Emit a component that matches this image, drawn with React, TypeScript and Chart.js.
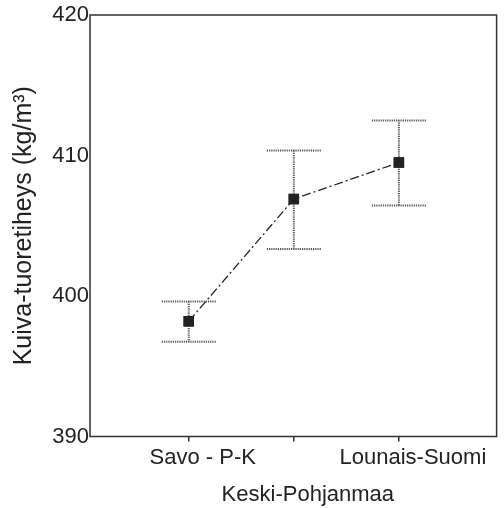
import React, { useEffect, useRef } from "react";
import { Chart, registerables } from "chart.js";

Chart.register(...registerables);

const categories = ["Savo - P-K", "Keski-Pohjanmaa", "Lounais-Suomi"];
const positions = [1, 2, 3];
const means = [398.2, 406.9, 409.5];
const lower = [396.75, 403.35, 406.45];
const upper = [399.6, 410.35, 412.5];
const yTicks = [390, 400, 410, 420];
const yTitle = "Kuiva-tuoretiheys (kg/m³)";

const FONT = "'Liberation Sans', Arial, Helvetica, sans-serif";

const errorBarPlugin = {
  id: "errorBars",
  afterDatasetsDraw(chart: any) {
    const { ctx, scales, chartArea } = chart;
    const xs = scales.x;
    const ys = scales.y;
    ctx.save();
    ctx.strokeStyle = "#555";
    ctx.lineWidth = 2;
    ctx.setLineDash([1.2, 1]);
    positions.forEach((p, i) => {
      const x = xs.getPixelForValue(p);
      const yl = ys.getPixelForValue(lower[i]);
      const yu = ys.getPixelForValue(upper[i]);
      const half = 27;
      ctx.beginPath();
      ctx.moveTo(x, yu);
      ctx.lineTo(x, yl);
      ctx.moveTo(x - half, yu);
      ctx.lineTo(x + half, yu);
      ctx.moveTo(x - half, yl);
      ctx.lineTo(x + half, yl);
      ctx.stroke();
    });
    ctx.restore();
    const meta = chart.getDatasetMeta(0);
    meta.data.forEach((pt: any) => pt.draw(ctx, chartArea));
    ctx.save();
    ctx.strokeStyle = "#333";
    ctx.lineWidth = 1.5;
    ctx.setLineDash([]);
    ctx.strokeRect(chartArea.left, chartArea.top, chartArea.right - chartArea.left, chartArea.bottom - chartArea.top);
    ctx.restore();
  },
};

export default function App() {
  const ref = useRef<HTMLCanvasElement | null>(null);
  useEffect(() => {
    if (!ref.current) return;
    const chart = new Chart(ref.current, {
      type: "line",
      data: {
        datasets: [
          {
            data: positions.map((p, i) => ({ x: p, y: means[i] })),
            borderColor: "#222",
            borderWidth: 1.3,
            borderDash: [9, 3, 2, 3],
            pointStyle: "rect",
            pointRadius: 7.4,
            pointBackgroundColor: "#222",
            pointBorderColor: "#222",
            pointBorderWidth: 0,
            fill: false,
            tension: 0,
          },
        ],
      },
      options: {
        animation: false,
        responsive: true,
        maintainAspectRatio: false,
        layout: { padding: { top: 15, right: 0, left: 0, bottom: 0 } },
        plugins: { legend: { display: false }, tooltip: { enabled: false } },
        scales: {
          x: {
            type: "linear",
            min: 0.06,
            max: 3.93,
            afterBuildTicks: (scale: any) => {
              scale.ticks = positions.map((v) => ({ value: v }));
            },
            afterFit: (scale: any) => {
              scale.height = 71.5;
            },
            grid: {
              display: true,
              drawOnChartArea: false,
              drawTicks: true,
              tickLength: 5,
              color: "#333",
              lineWidth: 1.5,
            },
            border: { display: false },
            ticks: {
              autoSkip: false,
              maxRotation: 0,
              labelOffset: 14,
              padding: -2,
              color: "#222",
              font: { family: FONT, size: 22, lineHeight: 1.68 },
              callback: (v: any) => {
                const i = positions.indexOf(Number(v));
                if (i < 0) return "";
                return i % 2 === 1 ? ["", categories[i]] : categories[i];
              },
            },
          },
          y: {
            min: 390,
            max: 420,
            afterBuildTicks: (scale: any) => {
              scale.ticks = yTicks.map((v) => ({ value: v }));
            },
            afterFit: (scale: any) => {
              scale.width = 90;
            },
            grid: { display: false, drawTicks: false },
            border: { display: false },
            ticks: {
              padding: 1,
              color: "#222",
              font: { family: FONT, size: 22 },
            },
            title: {
              display: true,
              text: yTitle,
              color: "#222",
              font: { family: FONT, size: 25 },
              padding: { top: 9, bottom: 0 },
            },
          },
        },
      },
      plugins: [errorBarPlugin],
    });
    return () => chart.destroy();
  }, []);
  return (
    <div style={{ position: "fixed", left: 0, top: 0, width: 504, height: 508, background: "#fff" }}>
      <canvas ref={ref} />
    </div>
  );
}
